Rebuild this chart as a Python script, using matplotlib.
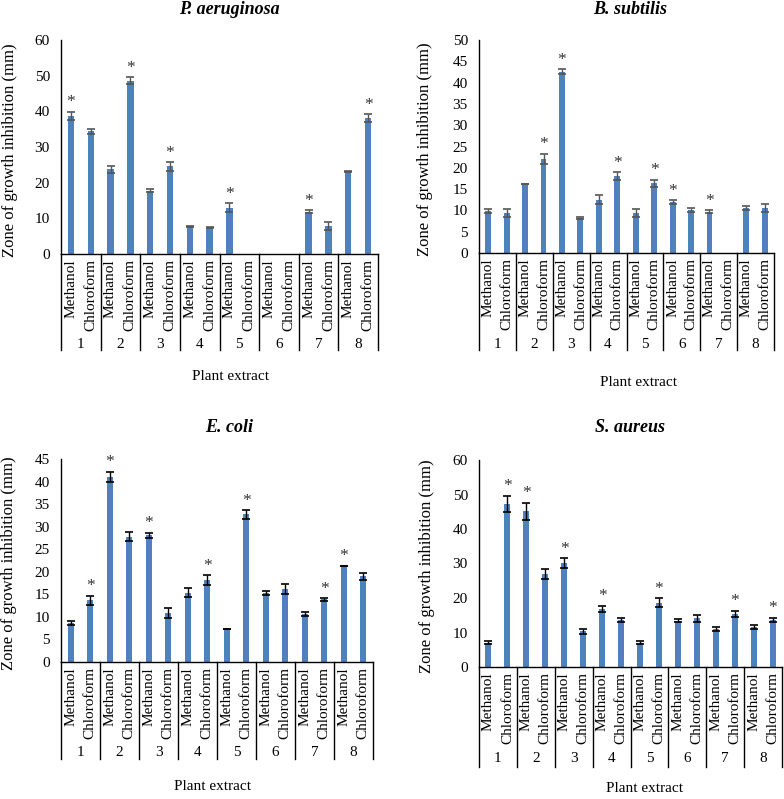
import numpy as np
import matplotlib
matplotlib.use('Agg')
import matplotlib.pyplot as plt
import matplotlib.transforms as mtransforms

plt.rcParams['font.family'] = ['Liberation Serif', 'DejaVu Serif']

# data
groups = ['1', '2', '3', '4', '5', '6', '7', '8']
solvents = ['Methanol', 'Chloroform']

pa_vals = [38.8, 34.4, 23.7, 48.6, 17.8, 24.6, 7.8, 7.4, 13.0, 0, 0, 0, 11.9, 7.8, 23.1, 38.1]
pa_err = [1.1, 0.7, 1.1, 1.0, 0.5, 1.2, 0.1, 0.1, 1.2, 0, 0, 0, 0.4, 1.1, 0.2, 1.1]
pa_sig = [1, 0, 0, 1, 0, 1, 0, 0, 1, 0, 0, 0, 1, 0, 0, 1]

bs_vals = [9.8, 9.4, 16.2, 22.1, 42.6, 8.2, 12.5, 18.1, 9.4, 16.4, 11.9, 10.1, 9.7, 0, 10.5, 10.6]
bs_err = [0.5, 0.9, 0.1, 1.2, 0.6, 0.2, 1.1, 0.9, 0.9, 0.8, 0.5, 0.4, 0.3, 0, 0.5, 1.0]
bs_sig = [0, 0, 0, 1, 1, 0, 0, 1, 0, 1, 1, 0, 1, 0, 0, 0]

ec_vals = [8.7, 13.7, 41.1, 27.8, 28.1, 10.8, 15.4, 18.2, 7.3, 32.7, 15.3, 16.2, 10.7, 13.9, 21.3, 19.0]
ec_err = [0.4, 1.0, 1.1, 1.0, 0.6, 1.1, 1.0, 1.1, 0.05, 0.9, 0.5, 1.1, 0.4, 0.3, 0.05, 0.8]
ec_sig = [0, 1, 1, 0, 1, 0, 0, 1, 0, 1, 0, 0, 0, 1, 1, 0]

sa_vals = [7.1, 47.3, 45.1, 26.9, 30.2, 10.3, 16.8, 13.7, 7.1, 18.6, 13.4, 14.1, 11.0, 15.4, 11.7, 13.7]
sa_err = [0.3, 2.4, 2.5, 1.4, 1.4, 0.7, 1.0, 0.6, 0.3, 1.3, 0.5, 1.0, 0.6, 0.9, 0.6, 0.6]
sa_sig = [0, 1, 1, 0, 1, 0, 1, 0, 0, 1, 0, 0, 0, 1, 0, 1]

W, H = 784, 799
BAR = '#4f81bd'

fig = plt.figure(figsize=(W / 100, H / 100), dpi=100)


def fy(py):
    return 1 - py / H


def panel(title, vals, err, sig, ymax, step, box, ecol):
    # box = plot area and label positions in pixels
    l, r, t, b, sep_b, num_y, px_x, px_y, tx, ty, ylx = box
    ax = fig.add_axes([l / W, fy(b), (r - l) / W, (b - t) / H])
    x = np.arange(len(vals))
    vals = np.array(vals, dtype=float)
    err = np.array(err, dtype=float)
    ax.bar(x, vals, width=0.32, color=BAR, zorder=2)
    # no error bars for empty (zero) bars
    m = vals > 0
    ax.errorbar(x[m], vals[m], yerr=err[m], fmt='none', ecolor=ecol,
                elinewidth=1, capsize=3, capthick=1.2, zorder=3)
    for i in range(len(vals)):
        if sig[i]:
            ax.annotate('*', (x[i], vals[i] + err[i]), xytext=(0, 1),
                        textcoords='offset points', ha='center', va='bottom',
                        fontsize=12.5, color='#333333')
    ax.set_xlim(-0.5, len(vals) - 0.5)
    ax.set_ylim(0, ymax)
    ax.set_yticks(np.arange(0, ymax + 0.1, step))
    ax.tick_params(axis='y', length=0, pad=8, labelsize=11)
    ax.set_xticks([])
    for s in ['top', 'right']:
        ax.spines[s].set_visible(False)
    ax.spines['left'].set_linewidth(1)
    ax.spines['bottom'].set_linewidth(1)

    # multi level category axis
    trans = mtransforms.blended_transform_factory(ax.transData, fig.transFigure)
    for k in range(len(groups) + 1):
        xs = 2 * k - 0.5
        ax.plot([xs, xs], [fy(b), fy(sep_b)], color='black', lw=1,
                transform=trans, clip_on=False)
    for i in range(len(vals)):
        ax.text(x[i], fy(b + 5), solvents[i % 2], rotation=90, ha='center',
                va='top', fontsize=11, transform=trans)
    for g in range(len(groups)):
        ax.text(2 * g + 0.5, fy(num_y), groups[g], ha='center', va='center',
                fontsize=11, transform=trans)

    fig.text(tx / W, fy(ty), title, ha='center', va='center', fontsize=13,
             fontweight='bold', fontstyle='italic')
    fig.text(px_x / W, fy(px_y), 'Plant extract', ha='center',
             va='center', fontsize=11)
    fig.text(ylx / W, fy((t + b) / 2 + 3), 'Zone of growth inhibition (mm)',
             rotation=90, ha='center', va='center', fontsize=12)


panel('P. aeruginosa', pa_vals, pa_err, pa_sig, 60, 10,
      (61, 378, 40, 254, 350, 344, 230, 376, 229, 10, 10), '#555555')
panel('B. subtilis', bs_vals, bs_err, bs_sig, 50, 5,
      (479, 774, 40, 253, 350, 344, 639, 383, 630, 10, 425), '#555555')
panel('E. coli', ec_vals, ec_err, ec_sig, 45, 5,
      (61, 373, 459, 662, 759, 752, 212, 787, 229, 428, 9), 'black')
panel('S. aureus', sa_vals, sa_err, sa_sig, 60, 10,
      (479, 782, 460, 667, 767, 758, 644, 789, 630, 428, 427), 'black')

fig.savefig('out.png', dpi=100)
